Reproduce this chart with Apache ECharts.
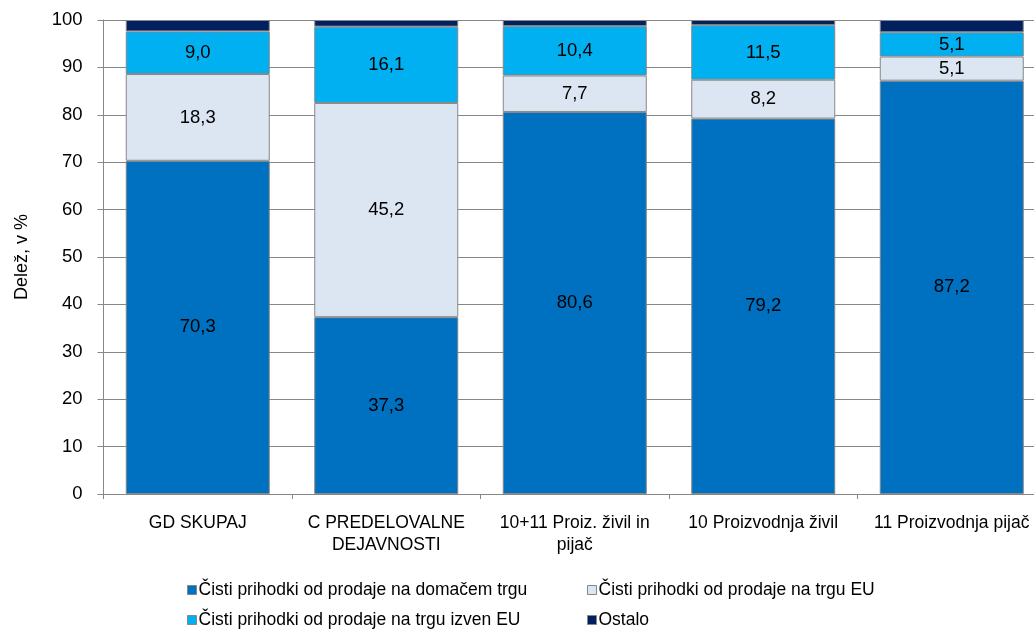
<!DOCTYPE html>
<html>
<head>
<meta charset="utf-8">
<script src="https://cdn.jsdelivr.net/npm/echarts@6/dist/echarts.min.js"></script>
<style>html,body{margin:0;padding:0;background:#fff;overflow:hidden;}#c{width:1046px;height:629px;}</style>
</head>
<body>
<div id="c"></div>
<script>
const categories = ['GD SKUPAJ', 'C PREDELOVALNE\nDEJAVNOSTI', '10+11 Proiz. živil in\npijač', '10 Proizvodnja živil', '11 Proizvodnja pijač'];
const seriesNames = ['Čisti prihodki od prodaje na domačem trgu', 'Čisti prihodki od prodaje na trgu EU', 'Čisti prihodki od prodaje na trgu izven EU', 'Ostalo'];
const domestic = [70.3, 37.3, 80.6, 79.2, 87.2];
const eu = [18.3, 45.2, 7.7, 8.2, 5.1];
const nonEu = [9.0, 16.1, 10.4, 11.5, 5.1];
const other = [2.4, 1.4, 1.3, 1.1, 2.6];
const yTicks = [0, 10, 20, 30, 40, 50, 60, 70, 80, 90, 100];

const colors = ['#0070C0', '#DCE6F2', '#00B0F0', '#002060'];
const font = 'Liberation Sans, Arial, sans-serif';
const grey = '#878787';
const fmt = p => p.value.toFixed(1).replace('.', ',');

function bar(name, data, color, showLabel) {
  return {
    name: name, type: 'bar', stack: 'total', data: data, barWidth: 144,
    itemStyle: { color: color, borderColor: grey, borderWidth: 1 },
    label: { show: showLabel, position: 'inside', formatter: fmt, color: '#000', fontSize: 18.5, fontFamily: font },
    emphasis: { disabled: true }
  };
}
function leg(name, left, top) {
  return {
    data: [name], left: left, top: top, icon: 'rect', itemWidth: 9, itemHeight: 9, itemGap: 0,
    padding: 0, selectedMode: false,
    itemStyle: { borderColor: grey, borderWidth: 1 },
    textStyle: { fontSize: 17.5, fontFamily: font, color: '#000', padding: [0, 0, 0, -3] }
  };
}
const chart = echarts.init(document.getElementById('c'), null, { renderer: 'canvas' });
chart.setOption({
  animation: false,
  textStyle: { fontFamily: font },
  grid: { left: 103.5, right: 0, top: 20, height: 474, containLabel: false },
  legend: [
    leg(seriesNames[0], 187, 581),
    leg(seriesNames[1], 587, 581),
    leg(seriesNames[2], 187, 611),
    leg(seriesNames[3], 587, 611)
  ],
  xAxis: {
    type: 'category', data: categories,
    axisLine: { lineStyle: { color: grey, width: 1 } },
    axisTick: { show: true, length: 5, lineStyle: { color: grey } },
    axisLabel: { color: '#000', fontSize: 17.5, fontFamily: font, margin: 18, lineHeight: 22, interval: 0 }
  },
  yAxis: {
    type: 'value', min: 0, max: 100, interval: 10,
    name: 'Delež, v %', nameLocation: 'middle', nameGap: 72, nameRotate: 90,
    nameTextStyle: { color: '#000', fontSize: 18, fontFamily: font },
    axisLine: { show: true, lineStyle: { color: grey, width: 1 } },
    axisTick: { show: true, length: 6, lineStyle: { color: grey } },
    axisLabel: { color: '#000', fontSize: 18.5, fontFamily: font, margin: 21,
      formatter: v => yTicks.includes(v) ? String(v) : '' },
    splitLine: { show: true, lineStyle: { color: grey, width: 1 } }
  },
  series: [
    bar(seriesNames[0], domestic, colors[0], true),
    bar(seriesNames[1], eu, colors[1], true),
    bar(seriesNames[2], nonEu, colors[2], true),
    bar(seriesNames[3], other, colors[3], false)
  ]
});
</script>
</body>
</html>
